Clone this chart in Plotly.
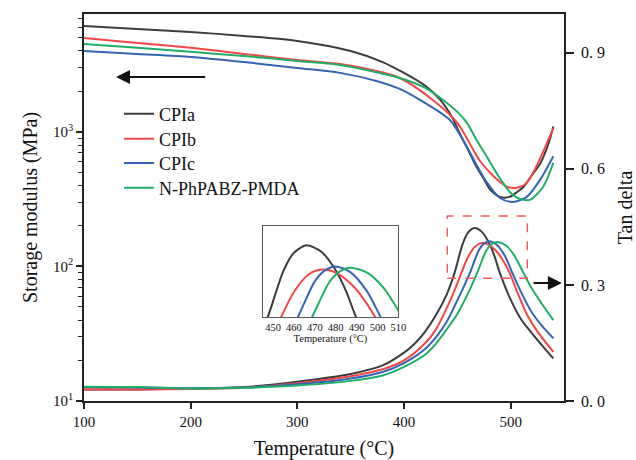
import plotly.graph_objects as go

# ---------------- data ----------------
series_names = ["CPIa", "CPIb", "CPIc", "N-PhPABZ-PMDA"]
series_colors = ["#3c3c3c", "#f04848", "#3564b4", "#20ad68"]

# Storage modulus (MPa) vs temperature (°C)
T_E_CPIa = [100, 150, 200, 250, 300, 350, 380, 400, 420, 434, 445, 452, 460, 468, 475, 481, 490, 499, 506, 512, 520, 528, 535, 540]
E_CPIa = [6140, 5830, 5540, 5170, 4750, 4000, 3310, 2745, 2200, 1730, 1290, 984, 740, 550, 445, 371, 329, 329, 358, 390, 479, 589, 800, 1100]

T_E_CPIb = [100, 150, 200, 250, 300, 340, 370, 396, 427, 450, 465, 472, 481, 490, 497, 506, 514, 521, 530, 540]
E_CPIb = [5000, 4590, 4220, 3800, 3430, 3200, 2890, 2520, 1730, 1170, 735, 598, 496, 425, 390, 385, 410, 496, 700, 1070]

T_E_CPIc = [100, 150, 200, 250, 300, 340, 377.5, 396, 415, 443, 459, 468, 478, 490, 502, 515, 527.5, 540]
E_CPIc = [4000, 3800, 3610, 3310, 2990, 2750, 2355, 2090, 1730, 1227, 773, 569, 418, 323, 302, 329, 440, 660]

T_E_PMDA = [100, 150, 200, 250, 300, 340, 396, 420, 436.6, 450, 459, 468, 477.8, 485, 492.8, 500, 508.75, 518, 530.3, 540]
E_PMDA = [4510, 4220, 3940, 3670, 3375, 3150, 2520, 2125, 1730, 1410, 1170, 873, 652, 521, 418, 352, 318, 313, 390, 589]

# Tan delta vs temperature (°C)
T_tan_CPIa = [100, 150, 200, 250, 300, 350, 380, 400, 410, 420, 430, 440, 447.4, 455, 460, 466, 473, 480, 485, 489.8, 500, 510, 520, 530, 540]
tan_CPIa = [0.030, 0.030, 0.032, 0.036, 0.050, 0.070, 0.092, 0.125, 0.148, 0.180, 0.222, 0.275, 0.331, 0.406, 0.435, 0.447, 0.437, 0.407, 0.373, 0.331, 0.262, 0.210, 0.175, 0.142, 0.110]

T_tan_CPIb = [100, 150, 200, 250, 300, 350, 380, 400, 420, 430, 440, 448, 453.8, 460, 467, 473.4, 480, 487, 492, 499, 505, 515, 525, 540]
tan_CPIb = [0.030, 0.030, 0.031, 0.034, 0.046, 0.064, 0.082, 0.105, 0.150, 0.185, 0.240, 0.290, 0.331, 0.372, 0.400, 0.408, 0.403, 0.386, 0.367, 0.331, 0.290, 0.225, 0.180, 0.127]

T_tan_CPIc = [100, 150, 200, 250, 300, 350, 380, 400, 420, 430, 440, 450, 461.8, 470, 475, 479.8, 487, 495, 501.6, 510, 520, 530, 540]
tan_CPIc = [0.036, 0.035, 0.033, 0.035, 0.043, 0.058, 0.075, 0.098, 0.135, 0.165, 0.205, 0.260, 0.331, 0.389, 0.407, 0.413, 0.404, 0.373, 0.331, 0.280, 0.228, 0.192, 0.162]

T_tan_PMDA = [100, 150, 200, 250, 300, 350, 380, 400, 420, 430, 440, 450, 460, 468.6, 477, 482, 486.9, 495, 503, 512, 520, 530, 540]
tan_PMDA = [0.037, 0.036, 0.032, 0.034, 0.040, 0.052, 0.066, 0.088, 0.120, 0.148, 0.185, 0.225, 0.278, 0.331, 0.388, 0.405, 0.411, 0.403, 0.378, 0.331, 0.290, 0.248, 0.209]

x_ticks = [100, 200, 300, 400, 500]
left_tickvals = [10, 100, 1000]
left_ticktext = ["10<sup>1</sup>", "10<sup>2</sup>", "10<sup>3</sup>"]
left_minor = [20, 30, 40, 50, 60, 70, 80, 90, 200, 300, 400, 500, 600, 700, 800, 900, 2000, 3000, 4000, 5000, 6000, 7000]
right_tickvals = [0.0, 0.3, 0.6, 0.9]
right_ticktext = ["0. 0", "0. 3", "0. 6", "0. 9"]
inset_ticks = [450, 460, 470, 480, 490, 500, 510]

E_T = [T_E_CPIa, T_E_CPIb, T_E_CPIc, T_E_PMDA]
E_vals = [E_CPIa, E_CPIb, E_CPIc, E_PMDA]
tan_T = [T_tan_CPIa, T_tan_CPIb, T_tan_CPIc, T_tan_PMDA]
tan_vals = [tan_CPIa, tan_CPIb, tan_CPIc, tan_PMDA]

FONT = "Liberation Serif"
AX = "#222222"
legend_ids = ["legend", "legend2", "legend3", "legend4"]
legend_tops = [0.789, 0.725, 0.662, 0.598]

fig = go.Figure()
for name, col, tx, ev, lid in zip(series_names, series_colors, E_T, E_vals, legend_ids):
    fig.add_trace(go.Scatter(x=tx, y=ev, mode="lines", name=name, legendgroup=name, legend=lid,
                             line=dict(color=col, width=2, shape="spline", smoothing=0.8),
                             xaxis="x", yaxis="y"))
for name, col, tx, tv in zip(series_names, series_colors, tan_T, tan_vals):
    fig.add_trace(go.Scatter(x=tx, y=tv, mode="lines", name=name, legendgroup=name, showlegend=False,
                             line=dict(color=col, width=2, shape="spline", smoothing=0.8),
                             xaxis="x", yaxis="y2"))
for name, col, tx, tv in zip(series_names, series_colors, tan_T, tan_vals):
    fig.add_trace(go.Scatter(x=tx, y=tv, mode="lines", name=name, legendgroup=name, showlegend=False,
                             line=dict(color=col, width=2, shape="spline", smoothing=0.8),
                             xaxis="x3", yaxis="y3"))

legend_layout = {}
for lid, top in zip(legend_ids, legend_tops):
    legend_layout[lid] = dict(x=0.073, y=top, xanchor="left", yanchor="top",
                              font=dict(family=FONT, size=18, color="#111111"),
                              bgcolor="rgba(0,0,0,0)", borderwidth=0)

# inset domain (paper coords)
ix0, ix1 = 0.372, 0.655
iy0, iy1 = 0.216, 0.452

fig.update_layout(
    template="none",
    width=636, height=460,
    margin=dict(l=84, r=72, t=14, b=59, autoexpand=False),
    paper_bgcolor="white", plot_bgcolor="white",
    font=dict(family=FONT, color="#111111", size=15),
    showlegend=True,
    xaxis=dict(domain=[0, 1], range=[100, 550], tickmode="array", tickvals=x_ticks, automargin=False,
               ticks="outside", ticklen=6, tickwidth=1.5, tickcolor=AX,
               showline=True, linecolor=AX, linewidth=1.5, mirror=True,
               showgrid=False, zeroline=False,
               tickfont=dict(family=FONT, size=15),
               title=dict(text="Temperature (°C)", font=dict(family=FONT, size=20), standoff=13)),
    yaxis=dict(type="log", range=[1, 3.877], tickmode="array", tickvals=left_tickvals, ticktext=left_ticktext,
               automargin=False,
               ticks="outside", ticklen=6, tickwidth=1.5, tickcolor=AX,
               minor=dict(tickmode="array", tickvals=left_minor, ticks="outside", ticklen=4, tickwidth=1.3, tickcolor=AX, showgrid=False),
               showline=True, linecolor=AX, linewidth=1.5, showgrid=False, zeroline=False,
               tickfont=dict(family=FONT, size=15),
               title=dict(text="Storage modulus (MPa)", font=dict(family=FONT, size=20), standoff=10)),
    yaxis2=dict(overlaying="y", side="right", range=[0, 1.0], tickmode="array",
                tickvals=right_tickvals, ticktext=right_ticktext, automargin=False,
                ticks="outside", ticklen=8, tickwidth=1.5, tickcolor=AX, ticklabelstandoff=4,
                showline=True, linecolor=AX, linewidth=1.5, showgrid=False, zeroline=False,
                tickfont=dict(family=FONT, size=16),
                title=dict(text="Tan delta", font=dict(family=FONT, size=20), standoff=14)),
    xaxis3=dict(domain=[ix0, ix1], anchor="y3", range=[445, 510], tickmode="array", tickvals=inset_ticks,
                automargin=False,
                ticks="", showline=True, linecolor="#555555", linewidth=1, mirror=True,
                showgrid=False, zeroline=False, tickfont=dict(family=FONT, size=10.5),
                title=dict(text="Temperature (°C)", font=dict(family=FONT, size=10.5), standoff=0)),
    yaxis3=dict(domain=[iy0, iy1], anchor="x3", range=[0.331, 0.478], showticklabels=False,
                automargin=False,
                ticks="", showline=True, linecolor="#555555", linewidth=1, mirror=True,
                showgrid=False, zeroline=False),
    shapes=[dict(type="rect", xref="x", yref="y2", x0=440.6, x1=515.6, y0=0.317, y1=0.478,
                 line=dict(color="#f05a5a", width=1.4, dash="dash"), fillcolor="rgba(0,0,0,0)")],
    annotations=[
        dict(x=130, y=0.837, xref="x", yref="y2", ax=215, ay=0.837, axref="x", ayref="y2",
             text="", showarrow=True, arrowhead=2, arrowsize=1.4, arrowwidth=2, arrowcolor="#111111"),
        dict(x=548, y=0.305, xref="x", yref="y2", ax=520, ay=0.305, axref="x", ayref="y2",
             text="", showarrow=True, arrowhead=2, arrowsize=1.4, arrowwidth=2, arrowcolor="#111111"),
    ],
    **legend_layout,
)

fig.write_html("out.html", config={"displayModeBar": False},
               post_script="document.body.style.margin='0';document.body.style.padding='0';")
